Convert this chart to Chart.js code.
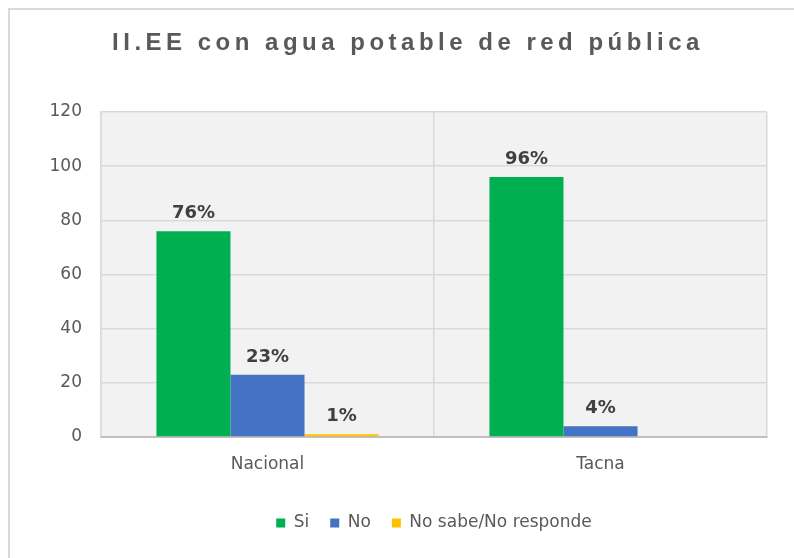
<!DOCTYPE html>
<html>
<head>
<meta charset="utf-8">
<script src="https://cdn.jsdelivr.net/npm/chart.js@4"></script>
<style>
  html, body { margin: 0; padding: 0; background: #ffffff; overflow: hidden; }
  #frame { position: absolute; left: 8px; top: 8px; width: 800px; height: 560px; border: 2px solid #d9d9d9; box-sizing: border-box; }
  #wrap { position: absolute; left: 0; top: 0; width: 794px; height: 558px; }
</style>
</head>
<body>
<div id="frame"></div>
<div id="wrap"><canvas id="c" width="794" height="558"></canvas></div>
<script>
const titleText = 'II.EE con agua potable de red pública';
const categories = ['Nacional', 'Tacna'];
const seriesNames = ['Si', 'No', 'No sabe/No responde'];
const siValues = [76, 96];
const noValues = [23, 4];
const nsValues = [1, 0];
const yTicks = [0, 20, 40, 60, 80, 100, 120];
const colors = ['#00b050', '#4472c4', '#ffc000'];

const plotBg = {
  id: 'plotBg',
  beforeDraw(chart) {
    const {ctx, chartArea: a} = chart;
    ctx.save();
    ctx.fillStyle = '#f2f2f2';
    ctx.fillRect(a.left, a.top, a.right - a.left, a.bottom - a.top);
    ctx.restore();
    const tb = chart.titleBlock;
    if (tb && !tb._spaced) {
      const orig = tb.draw.bind(tb);
      tb.draw = function(...args) {
        const c = this.ctx;
        const prev = c.letterSpacing;
        c.letterSpacing = '4.5px';
        orig(...args);
        c.letterSpacing = prev;
      };
      tb._spaced = true;
    }
  }
};

const dataLabels = {
  id: 'dataLabels',
  afterDatasetsDraw(chart) {
    const ctx = chart.ctx;
    ctx.save();
    ctx.font = 'bold 18px "DejaVu Sans"';
    ctx.fillStyle = '#404040';
    ctx.textAlign = 'center';
    ctx.textBaseline = 'alphabetic';
    chart.data.datasets.forEach((ds, i) => {
      const meta = chart.getDatasetMeta(i);
      meta.data.forEach((bar, j) => {
        const v = ds.data[j];
        if (!v) return;
        ctx.fillText(v + '%', bar.x, bar.y - 13);
      });
    });
    ctx.restore();
  }
};

new Chart(document.getElementById('c'), {
  type: 'bar',
  data: {
    labels: categories,
    datasets: [
      { label: seriesNames[0], data: siValues, backgroundColor: colors[0] },
      { label: seriesNames[1], data: noValues, backgroundColor: colors[1] },
      { label: seriesNames[2], data: nsValues, backgroundColor: colors[2] }
    ]
  },
  options: {
    responsive: false,
    animation: false,
    devicePixelRatio: 1,
    layout: { padding: { left: 22, right: 0, top: 0, bottom: 16.5 } },
    datasets: { bar: { categoryPercentage: 0.667, barPercentage: 1.0 } },
    plugins: {
      title: {
        display: true,
        text: titleText,
        color: '#595959',
        font: { family: '"Liberation Sans", Arial, sans-serif', size: 24, weight: 'bold' },
        padding: { top: 29, bottom: 54.2 }
      },
      legend: {
        position: 'bottom',
        fullSize: false,
        labels: {
          color: '#595959',
          font: { family: '"DejaVu Sans"', size: 17 },
          boxWidth: 9,
          boxHeight: 9,
          padding: 21
        }
      },
      tooltip: { enabled: false }
    },
    scales: {
      x: {
        grid: { display: true, offset: true, color: '#d9d9d9', lineWidth: 1.5, drawTicks: false },
        border: { display: true, color: '#bfbfbf', width: 2 },
        ticks: { color: '#595959', font: { family: '"DejaVu Sans"', size: 17 }, padding: 17 },
        afterFit(scale) { scale.height = 56.5; }
      },
      y: {
        min: 0,
        max: 120,
        afterBuildTicks(scale) { scale.ticks = yTicks.map(v => ({ value: v })); },
        grid: { color: '#d9d9d9', lineWidth: 1.5, drawTicks: false },
        border: { display: true, color: '#d9d9d9', width: 1.5 },
        ticks: { color: '#595959', font: { family: '"DejaVu Sans"', size: 17 }, padding: 19 },
        afterFit(scale) { scale.width = 79; }
      },
      yRight: {
        position: 'right',
        display: true,
        min: 0,
        max: 120,
        grid: { display: false, drawTicks: false },
        border: { display: false },
        ticks: { display: false },
        afterFit(scale) { scale.width = 27; }
      }
    }
  },
  plugins: [plotBg, dataLabels]
});
</script>
</body>
</html>
